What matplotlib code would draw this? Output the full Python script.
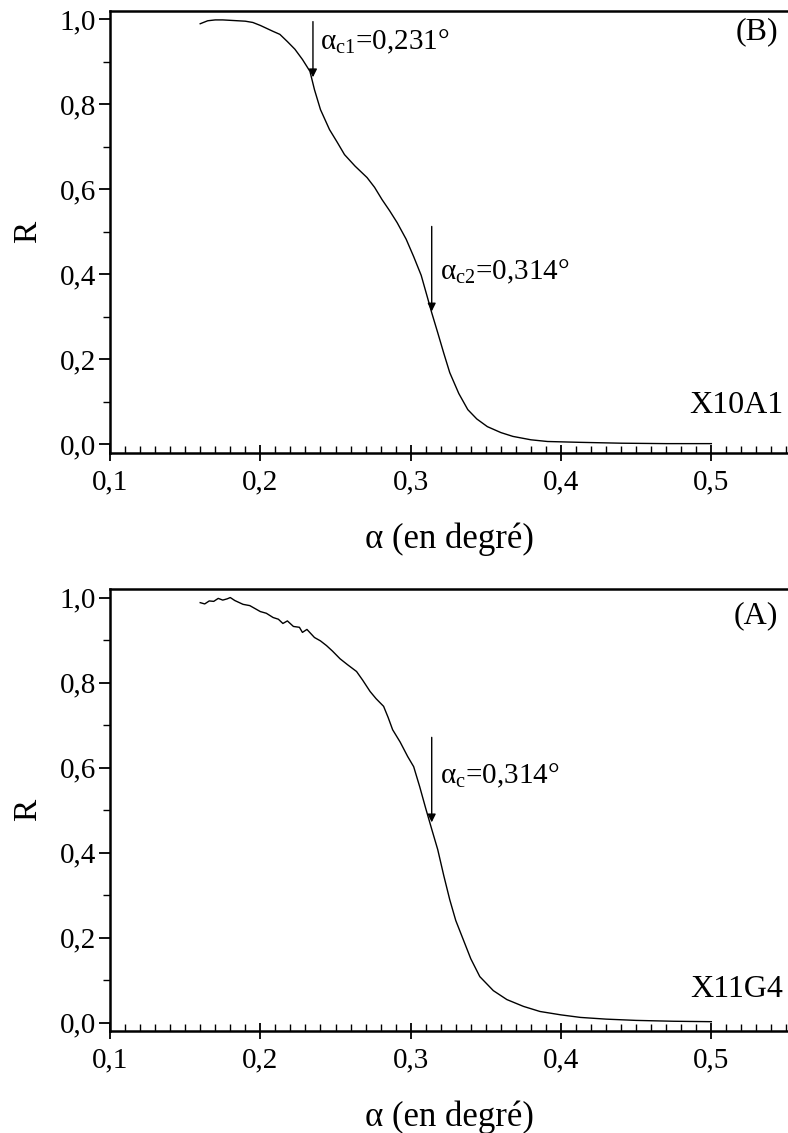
import matplotlib
matplotlib.use("Agg")
import matplotlib.pyplot as plt
from matplotlib.ticker import MultipleLocator, FixedLocator

plt.rcParams['font.family'] = ['Liberation Serif', 'DejaVu Serif']
plt.rcParams['mathtext.fontset'] = 'custom'
plt.rcParams['mathtext.rm'] = 'Liberation Serif'
plt.rcParams['mathtext.it'] = 'Liberation Serif'

# Panel B (X10A1)
xB = [0.160, 0.165, 0.170, 0.175, 0.180, 0.185, 0.190, 0.195, 0.200, 0.2085, 0.213, 0.218,
      0.223, 0.228, 0.233, 0.236, 0.240, 0.246, 0.251, 0.256, 0.263, 0.271, 0.276, 0.281,
      0.286, 0.291, 0.297, 0.302, 0.307, 0.311, 0.314, 0.318, 0.322, 0.326, 0.332, 0.338,
      0.344, 0.351, 0.360, 0.368, 0.380, 0.391, 0.413, 0.440, 0.470, 0.500]
RB = [0.990, 0.997, 0.999, 0.999, 0.998, 0.997, 0.996, 0.993, 0.986, 0.972, 0.965, 0.948,
      0.930, 0.906, 0.878, 0.835, 0.788, 0.741, 0.712, 0.682, 0.655, 0.628, 0.605, 0.576,
      0.550, 0.522, 0.483, 0.442, 0.398, 0.348, 0.310, 0.263, 0.215, 0.169, 0.120, 0.082,
      0.060, 0.042, 0.028, 0.019, 0.011, 0.007, 0.005, 0.003, 0.002, 0.002]

# Panel A (X11G4)
xA = [0.160, 0.163, 0.166, 0.169, 0.172, 0.175, 0.178, 0.180, 0.183, 0.1885, 0.193, 0.200,
      0.204, 0.2085, 0.212, 0.215, 0.218, 0.222, 0.226, 0.228, 0.231, 0.236, 0.240, 0.244,
      0.248, 0.253, 0.258, 0.264, 0.268, 0.273, 0.277, 0.282, 0.285, 0.288, 0.293, 0.298,
      0.302, 0.306, 0.310, 0.314, 0.318, 0.322, 0.326, 0.330, 0.335, 0.340, 0.346, 0.355,
      0.364, 0.375, 0.386, 0.400, 0.413, 0.430, 0.450, 0.475, 0.500]
RA = [0.988, 0.985, 0.992, 0.991, 0.998, 0.994, 0.997, 1.000, 0.993, 0.984, 0.981, 0.967,
      0.963, 0.953, 0.949, 0.939, 0.945, 0.932, 0.930, 0.918, 0.925, 0.906, 0.898, 0.887,
      0.874, 0.856, 0.842, 0.826, 0.806, 0.779, 0.762, 0.744, 0.718, 0.689, 0.660, 0.626,
      0.602, 0.555, 0.504, 0.455, 0.407, 0.346, 0.289, 0.240, 0.195, 0.150, 0.108, 0.075,
      0.054, 0.038, 0.026, 0.018, 0.012, 0.008, 0.005, 0.003, 0.002]

xticks = [0.1, 0.2, 0.3, 0.4, 0.5]
xtick_labels = ['0,1', '0,2', '0,3', '0,4', '0,5']
yticks = [0.0, 0.2, 0.4, 0.6, 0.8, 1.0]
ytick_labels = ['0,0', '0,2', '0,4', '0,6', '0,8', '1,0']

fig = plt.figure(figsize=(7.88, 11.33), dpi=100)
axB = fig.add_axes([0.1396, 0.6002, 0.8604, 0.3901])
axA = fig.add_axes([0.1396, 0.0900, 0.8604, 0.3901])

def style(ax):
    ax.set_xlim(0.1, 0.551)
    ax.set_ylim(-0.02, 1.02)
    ax.spines['right'].set_visible(False)
    for s in ['left', 'bottom', 'top']:
        ax.spines[s].set_linewidth(1.8)
    ax.set_xticks(xticks)
    ax.set_xticklabels(xtick_labels)
    ax.set_yticks(yticks)
    ax.set_yticklabels(ytick_labels)
    ax.xaxis.set_minor_locator(MultipleLocator(0.01))
    ax.yaxis.set_minor_locator(FixedLocator([0.1, 0.3, 0.5, 0.7, 0.9]))
    ax.tick_params(axis='x', which='major', direction='inout', length=12, width=1.3,
                   labelsize=21, pad=6, top=False)
    ax.tick_params(axis='x', which='minor', direction='in', length=5, width=1.0, top=False)
    ax.tick_params(axis='y', which='major', direction='out', length=8, width=1.3,
                   labelsize=21, pad=2)
    ax.tick_params(axis='y', which='minor', direction='out', length=5, width=1.0)
    ax.set_xlabel('α (en degré)', fontsize=25, labelpad=19)
    ax.set_ylabel('R', fontsize=24, labelpad=12)

style(axB)
style(axA)

axB.plot(xB, RB, color='black', lw=1.0)
axA.plot(xA, RA, color='black', lw=1.0)

arrow = dict(arrowstyle='-|>', color='black', lw=1.0, mutation_scale=12, shrinkA=0, shrinkB=0)
axB.annotate('', xy=(0.235, 0.864), xytext=(0.235, 0.995), arrowprops=arrow)
axB.text(0.2395, 0.948, r'$\mathrm{α}_{\mathrm{c1}}$=0,231°', fontsize=21, va='center', ha='left')
axB.annotate('', xy=(0.314, 0.313), xytext=(0.314, 0.513), arrowprops=arrow)
axB.text(0.3195, 0.405, r'$\mathrm{α}_{\mathrm{c2}}$=0,314°', fontsize=21, va='center', ha='left')
axB.text(0.5446, 0.972, '(B)', fontsize=23, va='center', ha='right')
axB.text(0.548, 0.092, 'X10A1', fontsize=23, va='center', ha='right')

axA.annotate('', xy=(0.314, 0.471), xytext=(0.314, 0.671), arrowprops=arrow)
axA.text(0.3195, 0.580, r'$\mathrm{α}_{\mathrm{c}}$=0,314°', fontsize=21, va='center', ha='left')
axA.text(0.5446, 0.958, '(A)', fontsize=23, va='center', ha='right')
axA.text(0.548, 0.078, 'X11G4', fontsize=23, va='center', ha='right')

fig.savefig('out.png', dpi=100)
